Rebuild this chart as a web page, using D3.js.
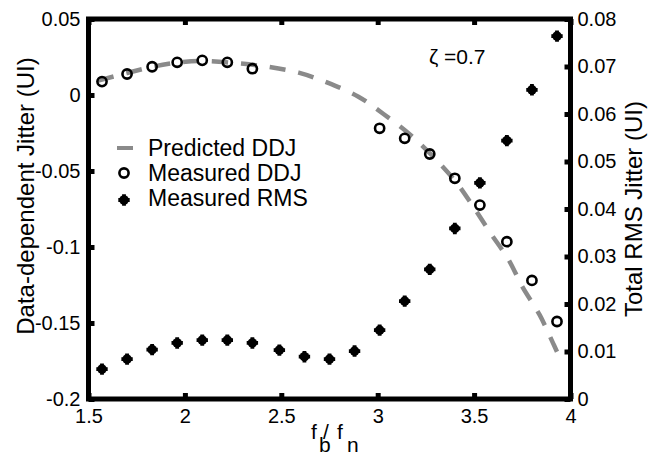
<!DOCTYPE html>
<html>
<head>
<meta charset="utf-8">
<script src="https://cdn.jsdelivr.net/npm/d3@7"></script>
<style>
  html, body { margin: 0; padding: 0; background: #fff; }
  svg { display: block; font-family: "Liberation Sans", Arial, Helvetica, sans-serif; }
</style>
</head>
<body>
<svg id="chart" width="657" height="456"></svg>
<script>
// Normalised frequency f_b / f_n for each measurement
const freqRatio = [1.57, 1.70, 1.83, 1.96, 2.09, 2.22, 2.35, 2.49, 2.62, 2.75, 2.88,
                   3.01, 3.14, 3.27, 3.40, 3.53, 3.67, 3.80, 3.93];
// Measured data-dependent jitter (UI); null where not measured
const measuredDDJ = [0.0088, 0.0138, 0.0186, 0.0215, 0.0228, 0.0215, 0.0173, null, null, null, null,
                     -0.0219, -0.0285, -0.0388, -0.0548, -0.0724, -0.0965, -0.1220, -0.1490];
// Measured total RMS jitter (UI)
const measuredRMS = [0.0063, 0.0084, 0.0104, 0.0118, 0.0124, 0.0124, 0.0118, 0.0103, 0.0089, 0.0084,
                     0.0101, 0.0145, 0.0206, 0.0273, 0.0359, 0.0455, 0.0544, 0.0651, 0.0764];
// Predicted DDJ curve
const predX = [1.55, 1.70, 1.83, 1.96, 2.09, 2.27, 2.43, 2.59, 2.74, 2.90, 3.03,
               3.17, 3.29, 3.41, 3.49, 3.58, 3.68, 3.75, 3.84, 3.91, 3.93];
const predY = [0.0095, 0.0145, 0.0185, 0.0213, 0.0224, 0.0209, 0.0186, 0.0147, 0.0081, -0.0011, -0.0125,
               -0.0263, -0.0408, -0.0579, -0.0724, -0.0899, -0.1086, -0.1261, -0.1447, -0.1634, -0.1689];

const xTicks = [1.5, 2, 2.5, 3, 3.5, 4];
const yLeftTicks = [-0.2, -0.15, -0.1, -0.05, 0, 0.05];
const yRightTicks = [0, 0.01, 0.02, 0.03, 0.04, 0.05, 0.06, 0.07, 0.08];

const legendItems = ["Predicted DDJ", "Measured DDJ", "Measured RMS"];

const svg = d3.select("#chart");
const L = 88.5, R = 570.5, T = 19, B = 399;

const x = d3.scaleLinear().domain([1.5, 4]).range([L, R]);
const yL = d3.scaleLinear().domain([-0.2, 0.05]).range([B, T]);
const yR = d3.scaleLinear().domain([0, 0.08]).range([B, T]);

const fmt = v => String(+v.toFixed(2));
const tickFont = 20;

// Predicted curve (drawn first, under markers)
const line = d3.line().x(d => x(d[0])).y(d => yL(d[1])).curve(d3.curveCatmullRom);
svg.append("path")
  .datum(predX.map((v, i) => [v, predY[i]]))
  .attr("d", line)
  .attr("fill", "none")
  .attr("stroke", "#8a8a8a")
  .attr("stroke-width", 4.5)
  .attr("stroke-dasharray", "16,13");

// Measured RMS markers: bold filled star-like dots
const crossSym = d3.symbol().type(d3.symbolCross).size(72);
function rmsMarker(g, cx, cy) {
  g.append("circle").attr("cx", cx).attr("cy", cy).attr("r", 4.8).attr("fill", "#000");
  g.append("path").attr("d", crossSym()).attr("transform", `translate(${cx},${cy})`).attr("fill", "#000");
}
const rmsG = svg.append("g");
freqRatio.forEach((f, i) => rmsMarker(rmsG, x(f), yR(measuredRMS[i])));

// Measured DDJ markers: open circles
svg.append("g").selectAll("circle")
  .data(freqRatio.map((f, i) => [f, measuredDDJ[i]]).filter(d => d[1] !== null))
  .join("circle")
  .attr("cx", d => x(d[0]))
  .attr("cy", d => yL(d[1]))
  .attr("r", 4.6)
  .attr("fill", "none")
  .attr("stroke", "#000")
  .attr("stroke-width", 2.6);

// Axes with inward ticks
const tickLen = -6;
function styleAxis(g) {
  g.select(".domain").remove();
  g.selectAll(".tick line").attr("stroke", "#000").attr("stroke-width", 5);
  g.selectAll(".tick text").attr("font-size", tickFont).attr("fill", "#000")
    .attr("font-family", "'Liberation Sans', Arial, sans-serif");
}
svg.append("g").attr("transform", `translate(0,${B})`)
  .call(d3.axisBottom(x).tickValues(xTicks).tickFormat(fmt).tickSize(tickLen).tickPadding(10))
  .call(styleAxis);
svg.append("g").attr("transform", `translate(0,${T})`)
  .call(d3.axisTop(x).tickValues(xTicks).tickFormat("").tickSize(tickLen))
  .call(styleAxis);
svg.append("g").attr("transform", `translate(${L},0)`)
  .call(d3.axisLeft(yL).tickValues(yLeftTicks).tickFormat(fmt).tickSize(tickLen).tickPadding(8))
  .call(styleAxis);
svg.append("g").attr("transform", `translate(${R},0)`)
  .call(d3.axisRight(yR).tickValues(yRightTicks).tickFormat(fmt).tickSize(tickLen).tickPadding(7))
  .call(styleAxis);

// Frame
svg.append("rect")
  .attr("x", L).attr("y", T).attr("width", R - L).attr("height", B - T)
  .attr("fill", "none").attr("stroke", "#000").attr("stroke-width", 5);

// Axis titles
svg.append("text")
  .attr("transform", "translate(34,196) rotate(-90)")
  .attr("text-anchor", "middle").attr("font-size", 24).attr("fill", "#000")
  .text("Data-dependent Jitter (UI)");
svg.append("text")
  .attr("transform", "translate(642,209) rotate(-90)")
  .attr("text-anchor", "middle").attr("font-size", 24).attr("fill", "#000")
  .text("Total RMS Jitter (UI)");

// x-axis title f_b / f_n
const xt = svg.append("g").attr("font-size", 21).attr("fill", "#000");
xt.append("text").attr("x", 311).attr("y", 439).text("f");
xt.append("text").attr("x", 319).attr("y", 452).text("b");
xt.append("text").attr("x", 323).attr("y", 439).text("/");
xt.append("text").attr("x", 337).attr("y", 439).text("f");
xt.append("text").attr("x", 347).attr("y", 452).text("n");

// Damping annotation
svg.append("text").attr("x", 429).attr("y", 64).attr("font-size", 21).attr("fill", "#000")
  .text("ζ =0.7");

// Legend
const lg = svg.append("g");
const rowY = [148, 173, 198];
lg.append("line").attr("x1", 117).attr("x2", 133).attr("y1", rowY[0]).attr("y2", rowY[0])
  .attr("stroke", "#8a8a8a").attr("stroke-width", 4);
lg.append("circle").attr("cx", 124).attr("cy", rowY[1]).attr("r", 4.6)
  .attr("fill", "none").attr("stroke", "#000").attr("stroke-width", 2.6);
rmsMarker(lg, 124, rowY[2] + 2);
legendItems.forEach((t, i) => {
  lg.append("text").attr("x", 148).attr("y", rowY[i] + 8).attr("font-size", 23).attr("fill", "#000").text(t);
});
</script>
</body>
</html>
